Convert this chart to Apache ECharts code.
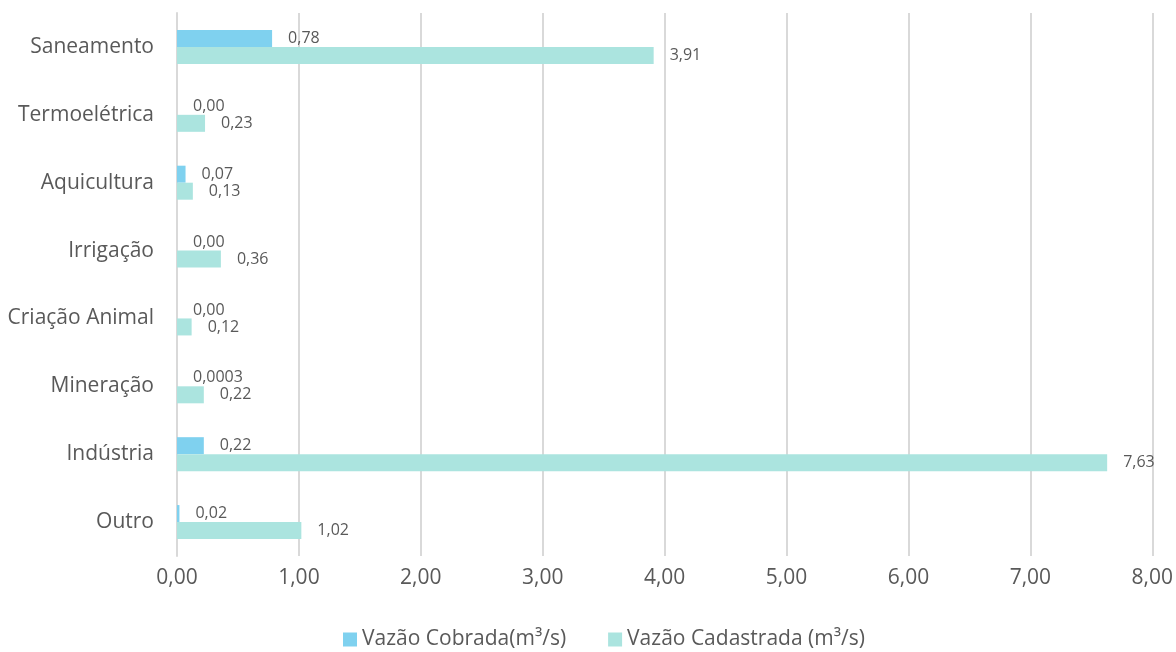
<!DOCTYPE html>
<html>
<head>
<meta charset="utf-8">
<script src="https://cdn.jsdelivr.net/npm/echarts@6/dist/echarts.min.js"></script>
<style>
  html, body { margin: 0; padding: 0; background: #fff; }
  #chart { width: 1176px; height: 652px; }
</style>
</head>
<body>
<div id="chart"></div>
<script>
// Usos da água por setor (top to bottom)
const categories = ['Saneamento', 'Termoelétrica', 'Aquicultura', 'Irrigação', 'Criação Animal', 'Mineração', 'Indústria', 'Outro'];
const vazaoCobrada = [0.78, 0, 0.07, 0, 0, 0.0003, 0.22, 0.02];
const vazaoCadastrada = [3.91, 0.23, 0.13, 0.36, 0.12, 0.22, 7.63, 1.02];
const seriesNames = ['Vazão Cobrada(m³/s)', 'Vazão Cadastrada (m³/s)'];

const textColor = '#595959';
const fontFamily = '"Open Sans", sans-serif';

function fmt(v) {
  const s = (v === 0 || v >= 0.01) ? v.toFixed(2) : String(v);
  return s.replace('.', ',');
}

const labelStyle = {
  show: true,
  position: 'right',
  distance: 16,
  color: textColor,
  fontSize: 16,
  fontFamily: fontFamily,
  formatter: p => fmt(p.value)
};

const chart = echarts.init(document.getElementById('chart'), null, { renderer: 'canvas' });
chart.setOption({
  animation: false,
  grid: { left: 177, right: 23, top: 13, bottom: 96, containLabel: false },
  legend: {
    bottom: -3,
    left: 338,
    itemWidth: 14,
    itemHeight: 14,
    itemGap: 42,
    icon: 'rect',
    textStyle: { color: textColor, fontSize: 21, fontFamily: fontFamily },
    data: seriesNames
  },
  xAxis: {
    type: 'value',
    min: 0,
    max: 8,
    interval: 1,
    axisLine: { show: false },
    axisTick: { show: false },
    splitLine: { show: true, lineStyle: { color: '#d9d9d9', width: 2 } },
    axisLabel: {
      color: textColor,
      fontSize: 21,
      fontFamily: fontFamily,
      margin: 12,
      formatter: v => v.toFixed(2).replace('.', ',')
    }
  },
  yAxis: {
    type: 'category',
    inverse: true,
    data: categories,
    axisLine: { show: true, lineStyle: { color: '#d9d9d9', width: 2 } },
    axisTick: { show: false },
    axisLabel: {
      color: textColor,
      fontSize: 21,
      fontFamily: fontFamily,
      margin: 23
    }
  },
  series: [
    {
      name: seriesNames[0],
      type: 'bar',
      data: vazaoCobrada,
      barWidth: 17,
      barGap: '0%',
      itemStyle: { color: '#7fd1ef' },
      label: labelStyle
    },
    {
      name: seriesNames[1],
      type: 'bar',
      data: vazaoCadastrada,
      barWidth: 17,
      barGap: '0%',
      itemStyle: { color: '#abe4df' },
      label: labelStyle
    }
  ]
});
</script>
</body>
</html>
